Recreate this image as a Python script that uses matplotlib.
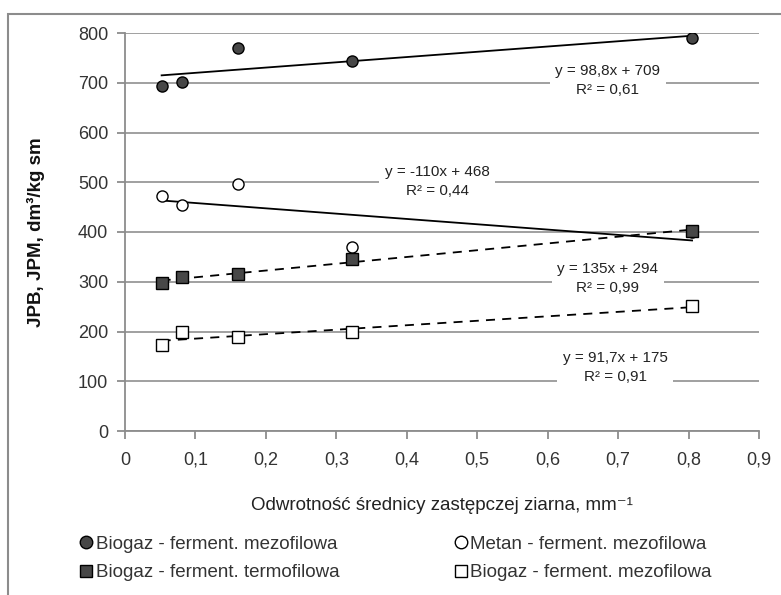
import matplotlib
matplotlib.use("Agg")
import matplotlib.pyplot as plt
from matplotlib.patches import Rectangle
from matplotlib.lines import Line2D
import numpy as np

plt.rcParams['font.family'] = ['Liberation Sans', 'DejaVu Sans']

x_vals = [0.052, 0.081, 0.16, 0.322, 0.805]
biogaz_mezo = [693, 702, 770, 743, 789]
metan_mezo = [472, 455, 496, 370, 400]
biogaz_termo = [297, 310, 315, 345, 403]
biogaz_mezo2 = [173, 199, 189, 199, 251]

labels = ["Biogaz - ferment. mezofilowa", "Metan - ferment. mezofilowa",
          "Biogaz - ferment. termofilowa", "Biogaz - ferment. mezofilowa"]
trend_texts = ["y = 98,8x + 709\nR² = 0,61", "y = -110x + 468\nR² = 0,44",
               "y = 135x + 294\nR² = 0,99", "y = 91,7x + 175\nR² = 0,91"]
trend_pos = [(0.685, 705), (0.443, 502), (0.685, 306), (0.696, 128)]

xticks = [0, 0.1, 0.2, 0.3, 0.4, 0.5, 0.6, 0.7, 0.8, 0.9]
yticks = [0, 100, 200, 300, 400, 500, 600, 700, 800]

fig = plt.figure(figsize=(7.81, 5.95), dpi=100)
fig.patches.append(Rectangle((8/781, -0.1), 1.2, 1 - 14/595 + 0.1, transform=fig.transFigure,
                             fill=False, edgecolor='#8c8c8c', linewidth=1.5))
ax = fig.add_axes([125/781, 1 - 431/595, 634/781, 398/595])

series = [biogaz_mezo, metan_mezo, biogaz_termo, biogaz_mezo2]
markers = ['o', 'o', 's', 's']
faces = ['#474747', 'white', '#474747', 'white']
lstyles = ['-', '-', (0, (5, 4)), (0, (5, 4))]
sizes = [8, 8, 8, 9]

x = np.array(x_vals)
for ys, m, fc, ls in zip(series, markers, faces, lstyles):
    ys = np.array(ys)
    k, b = np.polyfit(x, ys, 1)
    xx = np.array([x.min(), x.max()])
    ax.plot(xx, k * xx + b, color='black', linestyle=ls, linewidth=1.3, zorder=3)
for ys, m, fc, s in zip(series, markers, faces, sizes):
    ax.plot(x, ys, linestyle='none', marker=m, markersize=s, markerfacecolor=fc,
            markeredgecolor='black', markeredgewidth=1.0, zorder=4)

for t, (tx, ty) in zip(trend_texts, trend_pos):
    ax.text(tx, ty, t, ha='center', va='center', fontsize=11, color='#222222',
            linespacing=1.45, zorder=5,
            bbox=dict(facecolor='white', edgecolor='none', pad=4))

ax.set_xlim(0, 0.9)
ax.set_ylim(0, 800)
ax.set_xticks(xticks)
ax.set_xticklabels([("%g" % v).replace('.', ',') for v in xticks])
ax.set_yticks(yticks)
ax.set_yticklabels([str(v) for v in yticks])
ax.grid(axis='y', color='#999999', linewidth=1.3)
ax.set_axisbelow(True)
for s in ['top', 'right']:
    ax.spines[s].set_visible(False)
for s in ['left', 'bottom']:
    ax.spines[s].set_color('#8c8c8c')
    ax.spines[s].set_linewidth(1.3)
ax.tick_params(axis='both', colors='#8c8c8c', labelcolor='#333333', labelsize=13,
               length=6, width=1.3)
ax.tick_params(axis='x', pad=9)
ax.tick_params(axis='y', pad=6)

ax.set_xlabel("Odwrotność średnicy zastępczej ziarna, mm⁻¹", fontsize=13.5,
              color='#222222', labelpad=20)
ax.set_ylabel("JPB, JPM, dm³/kg sm", fontsize=13.5, fontweight='bold',
              color='#111111', labelpad=24)

handles = [Line2D([], [], linestyle='none', marker=m, markersize=9, markerfacecolor=fc,
                  markeredgecolor='black') for m, fc in zip(markers, faces)]
order = [0, 2, 1, 3]
fig.legend([handles[i] for i in order], [labels[i] for i in order], loc='lower left',
           bbox_to_anchor=(60/781, -0.005), ncol=2,
           frameon=False, fontsize=13.5, handletextpad=0.0, handlelength=1.0,
           columnspacing=6.0, labelspacing=0.6, labelcolor='#333333')

fig.savefig("out.png", dpi=100)
